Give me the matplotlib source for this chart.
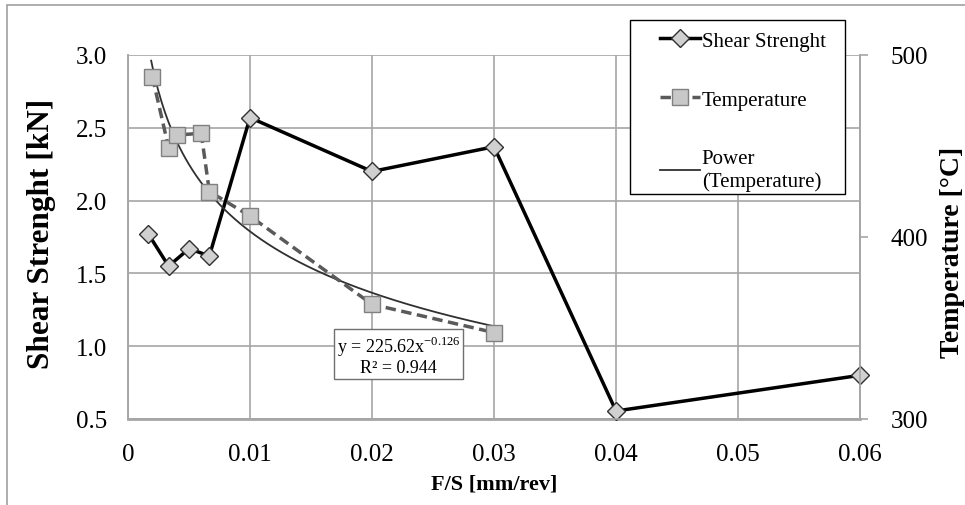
import matplotlib
matplotlib.use('Agg')
import matplotlib.pyplot as plt
from matplotlib.patches import Rectangle
import numpy as np

plt.rcParams['font.family'] = ['Liberation Serif', 'DejaVu Serif']
plt.rcParams['mathtext.fontset'] = 'custom'
plt.rcParams['mathtext.rm'] = 'Liberation Serif'

# feed / speed ratio [mm/rev]
fs_shear = [0.00167, 0.00333, 0.005, 0.00667, 0.01, 0.02, 0.03, 0.04, 0.06]
shear = [1.77, 1.55, 1.67, 1.62, 2.57, 2.20, 2.37, 0.555, 0.80]

fs_temp = [0.002, 0.00333, 0.004, 0.006, 0.00667, 0.01, 0.02, 0.03]
temp = [488, 449, 456, 457, 425, 411.5, 363, 347.5]

# power trendline of temperature
fit_a = 225.62
fit_b = -0.126
fit_r2 = 0.944

x_ticks = [0, 0.01, 0.02, 0.03, 0.04, 0.05, 0.06]
x_ticklabels = ['0', '0.01', '0.02', '0.03', '0.04', '0.05', '0.06']
y_ticks = [0.5, 1.0, 1.5, 2.0, 2.5, 3.0]
t_ticks = [300, 400, 500]

grid_c = '#a6a6a6'
W, H = 965, 506

fig = plt.figure(figsize=(9.65, 5.06), dpi=100)
ax = fig.add_axes([128 / W, 1 - 420 / H, 732 / W, 364 / H])
ax2 = ax.twinx()

# outer frame of the chart area
fig.patches.append(Rectangle((7 / W, -0.2), 1.2, 1.2 - 6 / H, transform=fig.transFigure,
                             fill=False, edgecolor='#a0a0a0', linewidth=1.2, zorder=0))

ax.set_xlim(0, 0.06)
ax.set_ylim(0.5, 3.0)
ax2.set_ylim(300, 500)

ax.set_xticks(x_ticks)
ax.set_xticklabels(x_ticklabels)
ax.set_yticks(y_ticks)
ax.set_yticklabels(['%.1f' % v for v in y_ticks])
ax2.set_yticks(t_ticks)

ax.grid(True, color=grid_c, linewidth=1.2)
ax.set_axisbelow(True)
for a in (ax, ax2):
    for s in a.spines.values():
        s.set_color(grid_c)
        s.set_linewidth(1.2)
    a.spines['top'].set_visible(False)
ax.spines['bottom'].set_linewidth(2)

ax.tick_params(axis='x', length=0, pad=17, labelsize=18)
ax.tick_params(axis='y', length=0, pad=15, labelsize=18)
ax2.tick_params(axis='y', length=6, width=1.2, color=grid_c, pad=16, labelsize=18)

ax.set_xlabel('F/S [mm/rev]', fontsize=16, fontweight='bold')
ax.xaxis.set_label_coords(0.5, -55 / 364)
ax.set_ylabel('Shear Strenght [kN]', fontsize=22.5, fontweight='bold')
ax.yaxis.set_label_coords(-72 / 732, 0.51)
ax2.set_ylabel('Temperature [°C]', fontsize=20, fontweight='bold')
ax2.yaxis.set_label_coords(1 + 80 / 732, 0.46)

l1, = ax.plot(fs_shear, shear, color='black', linewidth=2.5, marker='D', markersize=9.5,
              markerfacecolor='#d0d0d0', markeredgecolor='#303030', markeredgewidth=1,
              label='Shear Strenght', zorder=5, clip_on=False)
l2, = ax2.plot(fs_temp, temp, color='#5a5a5a', linewidth=2.5, linestyle=(0, (3, 1.6)),
               marker='s', markersize=11, markerfacecolor='#c8c8c8', markeredgecolor='#808080',
               markeredgewidth=1, label='Temperature', zorder=4)
xf = np.linspace(0.0019, 0.03, 200)
l3, = ax2.plot(xf, fit_a * xf ** fit_b, color='#303030', linewidth=1.3,
               label='Power\n(Temperature)', zorder=3)

ax2.text(0.0222, 0.94, 'y = %.2fx$^{\\mathrm{%.3f}}$\nR² = %.3f' % (fit_a, fit_b, fit_r2),
         transform=ax.transData, ha='center', va='center', fontsize=13, linespacing=1.05,
         bbox=dict(boxstyle='square,pad=0.15', facecolor='white', edgecolor='#707070', linewidth=1),
         zorder=6)

# legend box drawn separately so its padding can be set freely
fig.patches.append(Rectangle((630 / W, 1 - 195 / H), 215 / W, 174 / H, transform=fig.transFigure,
                             facecolor='white', edgecolor='black', linewidth=1, zorder=8))
leg = fig.legend(handles=[l1, l2, l3], loc='upper left', bbox_to_anchor=(660 / W, 1 - 32 / H),
                 fontsize=15, frameon=False, labelspacing=1.9, handlelength=1.9,
                 handletextpad=0.1, borderpad=0, borderaxespad=0)
leg.set_zorder(10)

fig.savefig('out.png', dpi=100)
